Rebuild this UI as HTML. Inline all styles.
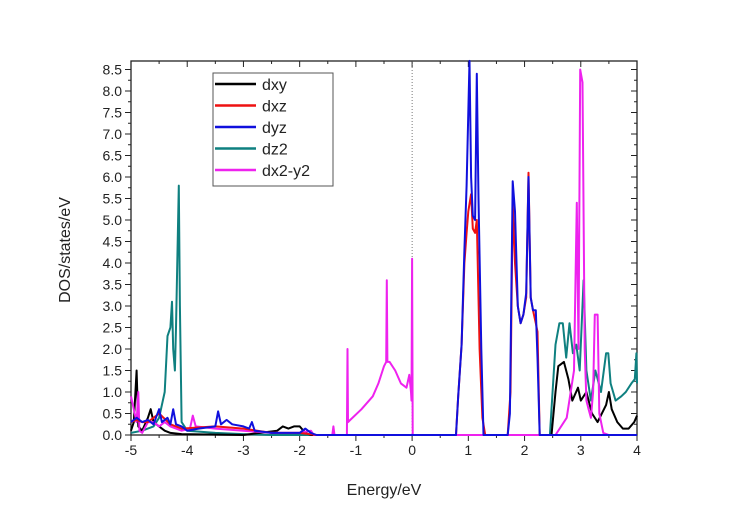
<!DOCTYPE html>
<html><head><meta charset="utf-8"><style>
body{margin:0;background:#fff}
svg text{font-family:"Liberation Sans",Arial,sans-serif;fill:#222}
</style></head><body>
<svg id="chart" width="741" height="522" xmlns="http://www.w3.org/2000/svg">
<g id="axes"></g>
<g id="series"></g>
<g id="legend"></g>
</svg>
<script>
const xTicks=[-5,-4,-3,-2,-1,0,1,2,3,4];
const yTicks=[0,0.5,1,1.5,2,2.5,3,3.5,4,4.5,5,5.5,6,6.5,7,7.5,8,8.5];
const seriesNames=["dxy","dxz","dyz","dz2","dx2-y2"];
const seriesColors=["#000000","#ee1111","#1010dd","#0f8080","#ee22ee"];
const dxyE=[-5,-4.95,-4.9,-4.87,-4.8,-4.7,-4.65,-4.6,-4.5,-4.4,-4.3,-4.1,-3,-2.4,-2.3,-2.2,-2.1,-2.0,-1.9,-1.8,2.48,2.55,2.6,2.7,2.78,2.85,2.95,3.0,3.1,3.2,3.3,3.45,3.5,3.55,3.65,3.75,3.85,3.95,4.0];
const dxyV=[0.1,0.3,1.5,0.2,0.1,0.4,0.6,0.3,0.2,0.1,0.05,0.02,0,0.1,0.2,0.15,0.2,0.2,0.05,0,0,1.0,1.6,1.7,1.3,0.8,1.1,0.8,1.0,0.5,0.3,0.7,1.0,0.6,0.3,0.15,0.15,0.3,0.45];
const dxzE=[-5,-4.9,-4.8,-4.7,-4.5,-4.3,-4.1,-3.5,-3,-2.5,-2,-1.7,0.78,0.82,0.88,0.93,0.97,1.0,1.05,1.08,1.12,1.15,1.2,1.25,1.3,1.7,1.75,1.79,1.83,1.88,1.93,1.98,2.03,2.07,2.11,2.15,2.2,2.23,2.27,4.0];
const dxzV=[0.3,0.35,0.3,0.3,0.5,0.25,0.15,0.2,0.15,0.05,0.05,0,0,0.9,2.1,4.0,4.7,5.2,5.6,4.8,4.7,5.0,2.0,0.4,0,0,1.0,5.4,4.0,3.0,2.6,2.8,3.2,6.1,3.2,2.9,2.6,2.4,0,0];
const dyzE=[-5,-4.9,-4.8,-4.7,-4.6,-4.5,-4.45,-4.35,-4.3,-4.25,-4.2,-4.1,-4.0,-3.8,-3.5,-3.45,-3.4,-3.3,-3.2,-3.0,-2.9,-2.85,-2.8,-2.5,-2.0,-1.9,-1.8,-1.7,0.78,0.82,0.88,0.93,0.97,1.02,1.05,1.08,1.12,1.15,1.18,1.23,1.27,1.7,1.74,1.79,1.83,1.88,1.93,1.98,2.03,2.07,2.11,2.15,2.2,2.23,2.27,4.0];
const dyzV=[0.3,0.4,0.3,0.35,0.25,0.6,0.3,0.4,0.25,0.6,0.25,0.2,0.1,0.15,0.2,0.55,0.25,0.35,0.25,0.2,0.15,0.3,0.1,0.05,0.05,0.15,0.05,0,0,0.9,2.1,4.3,5.8,8.7,6.0,5.1,5.0,8.4,5.5,2.0,0,0,0.5,5.9,5.2,3.0,2.6,2.8,3.3,6.0,3.2,2.9,2.9,1.8,0,0];
const dz2E=[-5,-4.8,-4.6,-4.5,-4.4,-4.35,-4.3,-4.27,-4.25,-4.22,-4.2,-4.17,-4.15,-4.13,-4.1,-4.0,-3.5,-3.0,-2.5,2.45,2.55,2.62,2.68,2.74,2.8,2.86,2.92,2.98,3.05,3.1,3.18,3.26,3.36,3.45,3.49,3.53,3.62,3.72,3.8,3.9,3.96,3.99,4.0];
const dz2V=[0.05,0.1,0.2,0.4,1.0,2.3,2.5,3.1,2.0,1.5,2.5,4.5,5.8,3.0,0.3,0.1,0.05,0.02,0,0,2.1,2.6,2.6,1.8,2.6,1.9,2.1,1.5,3.6,1.5,0.8,1.5,1.0,1.9,1.9,1.2,0.8,0.9,1.0,1.2,1.3,1.9,1.2];
const dx2E=[-5,-4.95,-4.9,-4.87,-4.85,-4.8,-4.7,-4.6,-4.5,-4.4,-4.3,-4.2,-4.1,-3.95,-3.9,-3.85,-3.5,-3.0,-2.5,-2.0,-1.8,-1.75,-1.42,-1.4,-1.38,-1.16,-1.15,-1.14,-1.1,-0.9,-0.7,-0.6,-0.5,-0.46,-0.45,-0.44,-0.4,-0.3,-0.2,-0.1,-0.05,-0.02,-0.01,0,0.01,2.55,2.75,2.88,2.93,2.96,2.99,3.03,3.07,3.1,3.14,3.18,3.22,3.25,3.3,3.33,3.4,3.5,4.0];
const dx2V=[0.9,0.6,0.3,1.0,0.1,0.05,0.3,0.3,0.2,0.3,0.2,0.15,0.1,0.15,0.45,0.2,0.15,0.1,0.05,0.05,0.1,0,0,0.2,0,0,2.0,0.3,0.35,0.6,0.9,1.2,1.6,1.7,3.6,1.7,1.7,1.5,1.2,1.1,1.4,1.0,0.8,4.1,0,0,0.4,1.5,5.4,2.0,8.5,8.2,2.0,0.8,0.6,0.4,1.0,2.8,2.8,0.5,0.05,0,0];
const allE=[dxyE,dxzE,dyzE,dz2E,dx2E];
const allV=[dxyV,dxzV,dyzV,dz2V,dx2V];

const NS="http://www.w3.org/2000/svg";
const L=131,R=637,T=61,B=435;
const X=e=>L+(e+5)/9*(R-L);
const Y=v=>B-v*43;
function mk(tag,attrs,parent){const el=document.createElementNS(NS,tag);for(const k in attrs)el.setAttribute(k,attrs[k]);parent.appendChild(el);return el;}
const ax=document.getElementById('axes');
let fr=mk('rect',{x:L,y:T,width:R-L,height:B-T,fill:'none',stroke:'#222','stroke-width':1.3},ax);


xTicks.forEach((t,i)=>{
  const x=X(t);
  let a=mk('line',{x1:x,y1:B,x2:x,y2:B+6,stroke:'#222'},ax);
  
  
  mk('line',{x1:x,y1:T,x2:x,y2:T+6,stroke:'#222'},ax);
  if(i<xTicks.length-1){const m=X(t+0.5);mk('line',{x1:m,y1:B,x2:m,y2:B+3,stroke:'#222'},ax);mk('line',{x1:m,y1:T,x2:m,y2:T+3,stroke:'#222'},ax);}
  let tx=mk('text',{x:x,y:B+20,'text-anchor':'middle','font-size':14},ax);
  tx.textContent=t;
  
  
});
yTicks.forEach(t=>{
  const y=Y(t);
  let a=mk('line',{x1:L-6,y1:y,x2:L,y2:y,stroke:'#222'},ax);
  
  
  mk('line',{x1:R,y1:y,x2:R-6,y2:y,stroke:'#222'},ax);
  const m=Y(t+0.25);
  if(m>T){mk('line',{x1:L-3,y1:m,x2:L,y2:m,stroke:'#222'},ax);mk('line',{x1:R,y1:m,x2:R-3,y2:m,stroke:'#222'},ax);}
  let tx=mk('text',{x:L-9,y:y+5,'text-anchor':'end','font-size':14},ax);
  tx.textContent=t.toFixed(1);
  
  
});
let zl=mk('line',{x1:X(0),y1:T,x2:X(0),y2:B,stroke:'#555','stroke-width':0.8,'stroke-dasharray':'1,2'},ax);


let xt=mk('text',{x:384,y:495,'text-anchor':'middle','font-size':16},ax);
xt.textContent='Energy/eV';


let yt=mk('text',{x:0,y:0,'text-anchor':'middle','font-size':16,transform:'translate(70,250) rotate(-90)'},ax);
yt.textContent='DOS/states/eV';



const sg=document.getElementById('series');
[3,0,4,1,2].forEach(i=>{
  const pts=allE[i].map((e,j)=>X(e).toFixed(1)+','+Y(Math.min(allV[i][j],8.75)).toFixed(1)).join(' ');
  let p=mk('polyline',{points:pts,fill:'none',stroke:seriesColors[i],'stroke-width':2,'stroke-linejoin':'round'},sg);
  
  
});

const lg=document.getElementById('legend');
let lb=mk('rect',{x:213,y:73,width:120,height:113,fill:'#fff',stroke:'#555','stroke-width':1},lg);


seriesNames.forEach((n,i)=>{
  const y=84+i*21.5;
  let g=mk('g',{},lg);
  
  
  mk('line',{x1:215,y1:y,x2:256,y2:y,stroke:seriesColors[i],'stroke-width':2.5},g);
  let t=mk('text',{x:262,y:y+6,'font-size':16},g);
  t.textContent=n;
});
</script>
</body></html>
